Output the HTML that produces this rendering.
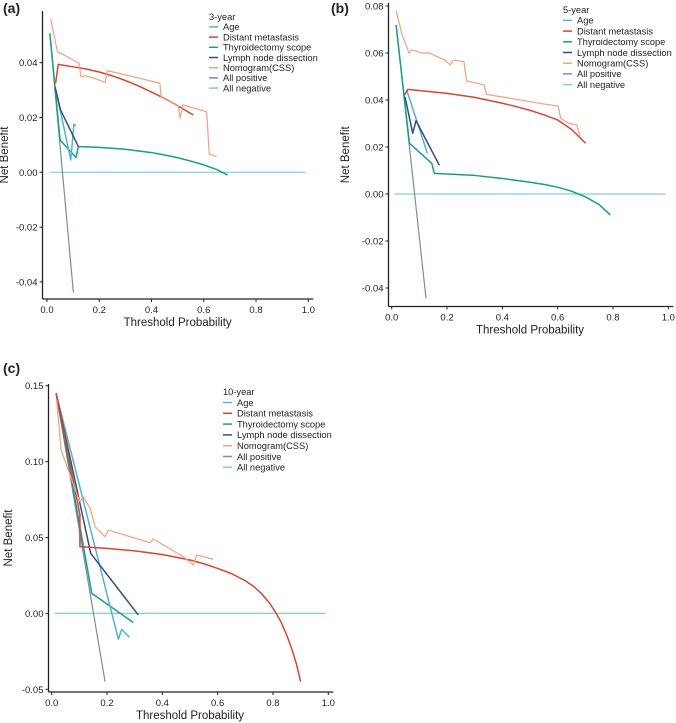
<!DOCTYPE html>
<html><head><meta charset="utf-8"><style>
body{margin:0;background:#fff;width:676px;height:723px;overflow:hidden}
svg{position:absolute;left:0;top:0}
text{font-family:"Liberation Sans",sans-serif;fill:#222}
</style></head><body>
<svg id="s" width="676" height="723"></svg>
<script>
// ---- Data (threshold, net benefit) ----
const seriesNames=["Age","Distant metastasis","Thyroidectomy scope","Lymph node dissection","Nomogram(CSS)","All positive","All negative"];
const colors=["#4fb6cc","#d9452f","#17a083","#3b4b7c","#f2a080","#7e88b4","#7fd3c4"];
// Panel a (3-year)
const a_age=[[0.034,0.030],[0.091,0.0045],[0.103,0.0176],[0.111,0.0169]];
const a_dm=[[0.033,0.0325],[0.043,0.0394],[0.1,0.0385],[0.15,0.0377],[0.2,0.0366],[0.25,0.0352],[0.3,0.0335],[0.35,0.0315],[0.4,0.0293],[0.45,0.0269],[0.5,0.0243],[0.56,0.0209]];
const a_thy=[[0.011,0.0507],[0.05,0.0118],[0.111,0.0054],[0.12,0.0094],[0.2,0.0091],[0.3,0.0084],[0.4,0.0072],[0.45,0.0063],[0.5,0.0053],[0.55,0.0041],[0.6,0.0027],[0.65,0.001],[0.691,-0.001]];
const a_lnd=[[0.031,0.031],[0.052,0.0227],[0.12,0.0094]];
const a_nom=[[0.014,0.056],[0.04,0.044],[0.081,0.042],[0.122,0.0398],[0.13,0.0349],[0.149,0.0352],[0.184,0.0342],[0.222,0.0328],[0.231,0.0371],[0.33,0.0349],[0.432,0.0325],[0.437,0.0274],[0.503,0.0242],[0.509,0.0197],[0.52,0.0246],[0.611,0.0221],[0.621,0.0067],[0.649,0.0057]];
const a_pos=[[0.011,0.0505],[0.101,-0.0439]];
const a_neg=[[0.01,0],[0.99,0]];
const a_yticks=[-0.04,-0.02,0.00,0.02,0.04];
// Panel b (5-year)
const b_age=[[0.054,0.0443],[0.129,0.0173]];
const b_dm=[[0.046,0.0421],[0.058,0.0445],[0.2,0.0428],[0.3,0.0411],[0.4,0.0386],[0.45,0.0372],[0.5,0.0356],[0.55,0.0337],[0.6,0.0315],[0.65,0.0275],[0.701,0.0216]];
const b_thy=[[0.016,0.0719],[0.064,0.0216],[0.145,0.013],[0.154,0.0088],[0.3,0.0079],[0.4,0.0066],[0.5,0.005],[0.55,0.0041],[0.6,0.0029],[0.65,0.0012],[0.7,-0.0012],[0.75,-0.0045],[0.79,-0.0089]];
const b_lnd=[[0.048,0.0414],[0.076,0.0258],[0.088,0.0312],[0.172,0.0123]];
const b_nom=[[0.016,0.078],[0.036,0.0684],[0.063,0.0599],[0.072,0.0613],[0.114,0.0599],[0.133,0.0601],[0.193,0.057],[0.211,0.0549],[0.223,0.057],[0.261,0.0563],[0.271,0.0481],[0.334,0.0464],[0.343,0.0424],[0.536,0.0386],[0.602,0.0374],[0.611,0.0322],[0.639,0.0301],[0.669,0.0294],[0.681,0.0244]];
const b_pos=[[0.016,0.0719],[0.124,-0.0444]];
const b_neg=[[0.01,0],[0.99,0]];
const b_yticks=[-0.04,-0.02,0.00,0.02,0.04,0.06,0.08];
// Panel c (10-year)
const c_age=[[0.016,0.145],[0.241,-0.017],[0.253,-0.0105],[0.281,-0.0157]];
const c_dm=[[0.016,0.145],[0.102,0.065],[0.102,0.044],[0.2,0.0428],[0.3,0.0412],[0.4,0.0388],[0.5,0.0352],[0.55,0.0327],[0.6,0.0296],[0.65,0.0262],[0.7,0.0215],[0.73,0.0178],[0.76,0.0128],[0.79,0.0062],[0.81,0.0005],[0.83,-0.006],[0.85,-0.0145],[0.87,-0.0245],[0.885,-0.0335],[0.9,-0.045]];
const c_thy=[[0.016,0.145],[0.145,0.0132],[0.295,-0.006]];
const c_lnd=[[0.016,0.145],[0.141,0.0396],[0.313,-0.001]];
const c_nom=[[0.018,0.1406],[0.034,0.1076],[0.09,0.0791],[0.102,0.0736],[0.114,0.0769],[0.139,0.0692],[0.157,0.0571],[0.193,0.0505],[0.205,0.0549],[0.355,0.0466],[0.367,0.049],[0.476,0.0374],[0.512,0.0319],[0.524,0.0385],[0.584,0.0356]];
const c_pos=[[0.016,0.145],[0.193,-0.045]];
const c_neg=[[0.01,0],[0.99,0]];
const c_yticks=[-0.05,0.00,0.05,0.10,0.15];
const xticks=[0,0.2,0.4,0.6,0.8,1.0];

const NS="http://www.w3.org/2000/svg";
const svg=document.getElementById('s');
function mk(tag,attrs,parent,txt){const e=document.createElementNS(NS,tag);for(const k in attrs)e.setAttribute(k,attrs[k]);if(txt!==undefined)e.textContent=txt;parent.appendChild(e);return e;}

function panel(cfg){
  const g=mk('g',{},svg);
  
  
  const X=v=>cfg.x0+(cfg.x1-cfg.x0)*v;
  const Y=v=>cfg.yA+(v-cfg.vA)*(cfg.yB-cfg.yA)/(cfg.vB-cfg.vA);
  const lab=mk('text',{x:cfg.lx,y:cfg.ly,'font-family':'Liberation Serif','font-weight':'bold','font-size':14},g,'('+cfg.id+')');
  
  
  const ya=mk('line',{x1:cfg.ax,y1:cfg.ayTop,x2:cfg.ax,y2:cfg.ayBot,stroke:'#222','stroke-width':1.3},g);
  
  
  const xa=mk('line',{x1:cfg.ax,y1:cfg.ayBot,x2:X(1)+5,y2:cfg.ayBot,stroke:'#222','stroke-width':1.3},g);
  
  
  cfg.yticks.forEach(t=>{
    mk('line',{x1:cfg.ax-3,x2:cfg.ax,y1:Y(t),y2:Y(t),stroke:'#222'},g);
    const tl=mk('text',{x:cfg.ax-5,y:Y(t)+3.5,'font-size':9.5,'text-anchor':'end'},g,t.toFixed(2));
    
    
  });
  xticks.forEach(t=>{
    mk('line',{x1:X(t),x2:X(t),y1:cfg.ayBot,y2:cfg.ayBot+3,stroke:'#222'},g);
    const tl=mk('text',{x:X(t),y:cfg.ayBot+14,'font-size':9.5,'text-anchor':'middle'},g,t.toFixed(1));
    
    
  });
  const xt=mk('text',{x:(X(0)+X(1))/2,y:cfg.ayBot+27,'font-size':11.5,'text-anchor':'middle'},g,'Threshold Probability');
  
  
  const yc=(cfg.ayTop+cfg.ayBot)/2;
  const yt=mk('text',{x:cfg.ytx,y:yc,'font-size':11.5,'text-anchor':'middle',transform:'rotate(-90 '+cfg.ytx+' '+yc+')'},g,'Net Benefit');
  
  
  const order=[6,5,2,0,3,1,4];
  order.forEach(i=>{
    const d=cfg.series[i];
    const p=mk('polyline',{points:d.map(q=>X(q[0])+','+Y(q[1])).join(' '),fill:'none',stroke:colors[i],'stroke-width':i>=4?1.2:1.5,'stroke-linejoin':'round'},g);
    
    
  });
  const lg=mk('g',{},g);
  
  
  mk('text',{x:cfg.legx,y:cfg.legy,'font-size':9.3},lg,cfg.title);
  seriesNames.forEach((n,i)=>{
    const yy=cfg.legy+cfg.legdy*(i+1);
    mk('line',{x1:cfg.legx,x2:cfg.legx+9,y1:yy-3.3,y2:yy-3.3,stroke:colors[i],'stroke-width':1.5},lg);
    const t=mk('text',{x:cfg.legx+14,y:yy,'font-size':9.3},lg,n);
    
    
  });
}
panel({id:'a',title:'3-year',x0:47,x1:308.3,yA:172.3,vA:0,yB:62.7,vB:0.04,ax:42.5,ayTop:11,ayBot:299,yticks:a_yticks,
  series:[a_age,a_dm,a_thy,a_lnd,a_nom,a_pos,a_neg],lx:3,ly:13,ytx:8,legx:209,legy:20,legdy:10.2});
panel({id:'b',title:'5-year',x0:391.7,x1:668.3,yA:194,vA:0,yB:6,vB:0.08,ax:388.5,ayTop:3,ayBot:306.5,yticks:b_yticks,
  series:[b_age,b_dm,b_thy,b_lnd,b_nom,b_pos,b_neg],lx:331,ly:13,ytx:349,legx:563,legy:13,legdy:10.7});
panel({id:'c',title:'10-year',x0:51.7,x1:328.3,yA:689.3,vA:-0.05,yB:385.7,vB:0.15,ax:48.5,ayTop:384,ayBot:692,yticks:c_yticks,
  series:[c_age,c_dm,c_thy,c_lnd,c_nom,c_pos,c_neg],lx:3,ly:373,ytx:12,legx:223,legy:395,legdy:10.8});
</script>
</body></html>
